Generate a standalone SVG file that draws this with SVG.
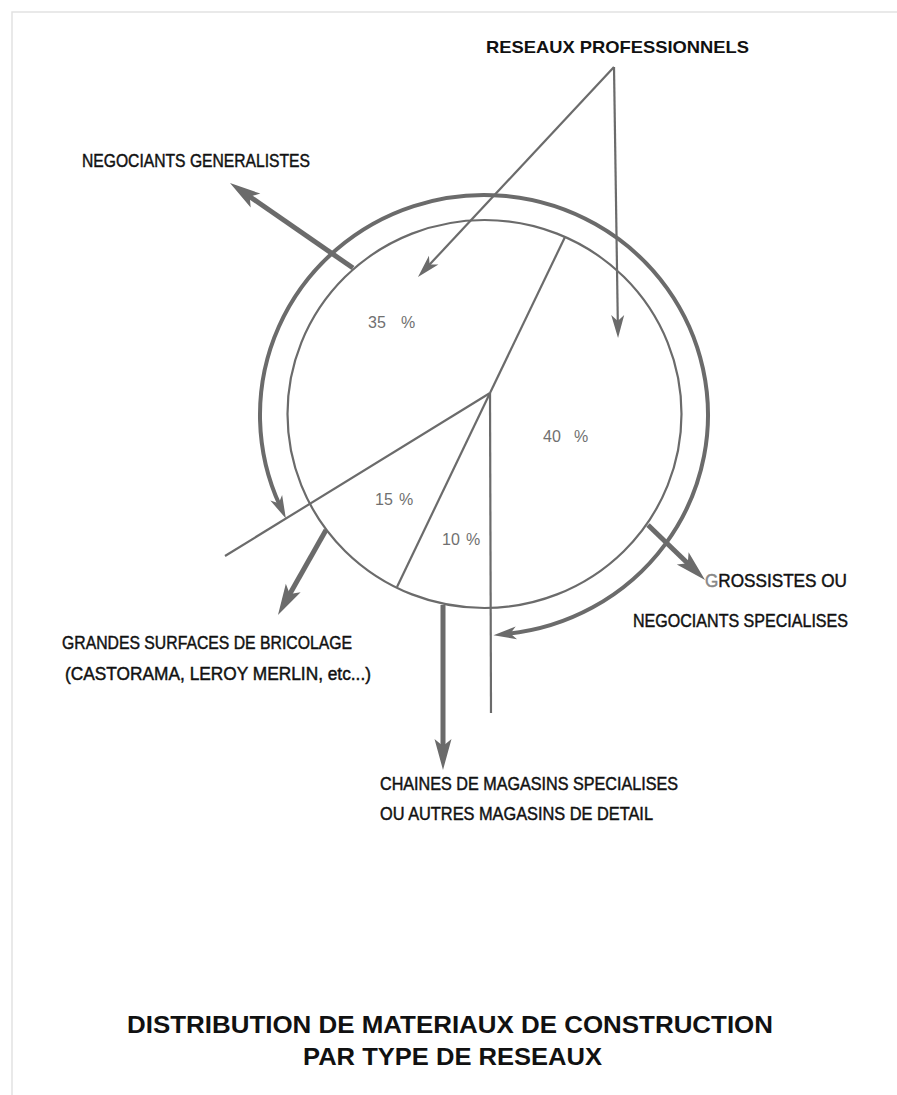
<svg xmlns="http://www.w3.org/2000/svg" width="897" height="1095" viewBox="0 0 897 1095">
<style>
.bg{fill:#ffffff}
.frame{fill:none;stroke:#e2e2e2;stroke-width:1.5}
.thin{fill:none;stroke:#6b6b6b;stroke-width:2.2}
.ring{fill:none;stroke:#6b6b6b;stroke-width:4}
.thick{fill:none;stroke:#6b6b6b;stroke-width:5}
.lbl{font-family:"Liberation Sans",Arial,sans-serif;font-size:18px;fill:#111;stroke:#111;stroke-width:0.45}
.bold{font-family:"Liberation Sans",Arial,sans-serif;font-weight:bold;fill:#111}
.pct{font-family:"Liberation Sans",Arial,sans-serif;font-size:16px;fill:#707070}
</style>
<defs>
<marker id="headThick" markerUnits="userSpaceOnUse" orient="auto" markerWidth="40" markerHeight="24" viewBox="-10 -12 40 24" refX="0" refY="0" overflow="visible">
<path d="M22 0 L-9 -8.5 L-2 0 L-9 8.5 Z" fill="#6b6b6b"/>
</marker>
<marker id="headThin" markerUnits="userSpaceOnUse" orient="auto" markerWidth="30" markerHeight="16" viewBox="-8 -8 30 16" refX="0" refY="0" overflow="visible">
<path d="M16 0 L-7 -6.5 L-1 0 L-7 6.5 Z" fill="#6b6b6b"/>
</marker>
<marker id="headArc" markerUnits="userSpaceOnUse" orient="auto-start-reverse" markerWidth="30" markerHeight="16" viewBox="-8 -8 30 16" refX="0" refY="0" overflow="visible">
<path d="M14 0 L-9 -6.5 L-3 0 L-9 6.5 Z" fill="#6b6b6b"/>
</marker>
</defs>
<rect class="bg" x="0" y="0" width="897" height="1095"/>
<path class="frame" d="M12 1095 L12 12 L897 12"/>

<g id="pie">
<ellipse class="thin" cx="484.5" cy="414" rx="197" ry="194"/>
<line class="thin" x1="490" y1="393" x2="565" y2="237"/>
<line class="thin" x1="490" y1="393" x2="225" y2="556"/>
<line class="thin" x1="490" y1="393" x2="397" y2="587"/>
<line class="thin" x1="490" y1="393" x2="491" y2="713"/>
<text class="pct" x="368" y="328">35<tspan x="401">%</tspan></text>
<text class="pct" x="543" y="442">40<tspan x="574">%</tspan></text>
<text class="pct" x="375" y="505">15<tspan x="399">%</tspan></text>
<text class="pct" x="442" y="545">10<tspan x="466">%</tspan></text>
</g>

<g id="connectors">
<path class="ring" d="M280 505.9 A224 220 0 1 1 507.4 633.8" marker-start="url(#headArc)" marker-end="url(#headArc)"/>
<line class="thin" x1="614" y1="67" x2="428.9" y2="265.3" marker-end="url(#headThin)"/>
<line class="thin" x1="614" y1="67" x2="617.8" y2="322" marker-end="url(#headThin)"/>
<line class="thick" x1="353" y1="268" x2="248.1" y2="195.5" marker-end="url(#headThick)"/>
<line class="thick" x1="326" y1="530" x2="288.8" y2="595.8" marker-end="url(#headThick)"/>
<line class="thick" x1="648" y1="525" x2="689.2" y2="564.7" marker-end="url(#headThick)"/>
<line class="thick" x1="443" y1="605" x2="443" y2="748" marker-end="url(#headThick)"/>
</g>

<g id="reseaux-professionnels">
<text class="bold" x="486" y="53" font-size="17" textLength="263" lengthAdjust="spacingAndGlyphs">RESEAUX PROFESSIONNELS</text>
</g>
<g id="negociants-generalistes">
<text class="lbl" x="82" y="167" textLength="228" lengthAdjust="spacingAndGlyphs">NEGOCIANTS GENERALISTES</text>
</g>
<g id="grossistes">
<text class="lbl" x="705" y="587" textLength="142" lengthAdjust="spacingAndGlyphs"><tspan fill="#888" stroke="#888">G</tspan>ROSSISTES OU</text>
<text class="lbl" x="633" y="627" textLength="215" lengthAdjust="spacingAndGlyphs">NEGOCIANTS SPECIALISES</text>
</g>
<g id="grandes-surfaces">
<text class="lbl" x="62" y="649" textLength="290" lengthAdjust="spacingAndGlyphs">GRANDES SURFACES DE BRICOLAGE</text>
<text class="lbl" x="65" y="680" textLength="306" lengthAdjust="spacingAndGlyphs">(CASTORAMA, LEROY MERLIN, etc...)</text>
</g>
<g id="chaines">
<text class="lbl" x="380" y="790" textLength="298" lengthAdjust="spacingAndGlyphs">CHAINES DE MAGASINS SPECIALISES</text>
<text class="lbl" x="380" y="820" textLength="273" lengthAdjust="spacingAndGlyphs">OU AUTRES MAGASINS DE DETAIL</text>
</g>
<g id="title">
<text class="bold" x="127" y="1033" font-size="23" textLength="646" lengthAdjust="spacingAndGlyphs">DISTRIBUTION DE MATERIAUX DE CONSTRUCTION</text>
<text class="bold" x="303" y="1065" font-size="23" textLength="299" lengthAdjust="spacingAndGlyphs">PAR TYPE DE RESEAUX</text>
</g>
</svg>
